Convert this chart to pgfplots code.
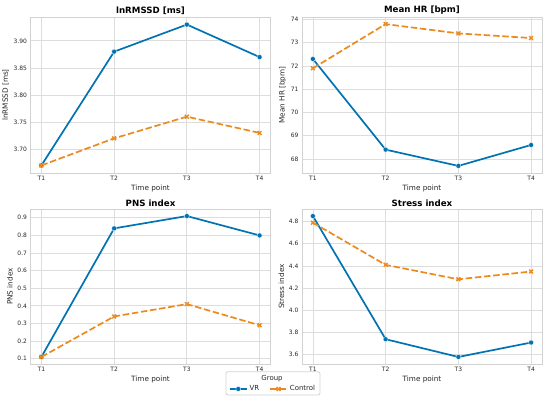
\documentclass[border=0pt]{standalone}
\usepackage{fontspec}
\setmainfont{DejaVu Sans}
\usepackage{pgfplots}
\pgfplotsset{compat=1.18}
\definecolor{vr}{RGB}{1,115,178}
\definecolor{ctl}{RGB}{236,138,30}
\definecolor{gridc}{RGB}{221,221,221}
\definecolor{spine}{RGB}{210,210,210}
\definecolor{txt}{RGB}{38,38,38}
\pgfplotsset{
  panel/.style={
    width=240bp, height=156bp, scale only axis,
    xmin=-0.15, xmax=3.15, xtick={0,1,2,3}, xticklabels={T1,T2,T3,T4},
    grid=major, major grid style={draw=gridc, line width=0.8bp},
    axis line style={draw=spine, line width=0.8bp},
    major tick length=0pt,
    /pgf/number format/assume math mode=true,
    ticklabel style={font=\fontsize{6}{7}\selectfont, text=txt},
    title style={font=\bfseries\fontsize{8.7}{10}\selectfont, yshift=-7bp},
    label style={font=\fontsize{7.3}{8.5}\selectfont, text=txt},
    xlabel={Time point},
    xlabel style={yshift=3bp},
    ylabel style={yshift=-2bp},
  },
  vrs/.style={color=vr, line width=1.7bp, mark=*, mark size=2.5bp, mark options={solid, fill=vr, draw=white, line width=0.3bp}},
  ctls/.style={color=ctl, line width=1.7bp, dash pattern=on 6.5bp off 2.7bp, mark=x, mark size=2.7bp, mark options={solid, line width=1.4bp}},
}
\begin{document}
\begin{tikzpicture}
\useasboundingbox (0bp,0bp) rectangle (550bp,401bp);
% top-left
\begin{axis}[panel, at={(30.5bp,228bp)}, anchor=south west,
  title={lnRMSSD [ms]}, ylabel={lnRMSSD [ms]},
  ymin=3.656, ymax=3.944, ytick={3.70,3.75,3.80,3.85,3.90},
  yticklabel style={/pgf/number format/.cd, fixed, fixed zerofill, precision=2}]
\addplot[vrs] coordinates {(0,3.67) (1,3.88) (2,3.93) (3,3.87)};
\addplot[ctls] coordinates {(0,3.67) (1,3.72) (2,3.76) (3,3.73)};
\end{axis}
% top-right
\begin{axis}[panel, at={(302bp,228bp)}, anchor=south west,
  title={Mean HR [bpm]}, ylabel={Mean HR [bpm]},
  ymin=67.395, ymax=74.105, ytick={68,69,70,71,72,73,74}]
\addplot[vrs] coordinates {(0,72.3) (1,68.4) (2,67.7) (3,68.6)};
\addplot[ctls] coordinates {(0,71.9) (1,73.8) (2,73.4) (3,73.2)};
\end{axis}
% bottom-left
\begin{axis}[panel, at={(30.5bp,37bp)}, anchor=south west, height=155bp,
  title={PNS index}, ylabel={PNS index},
  ymin=0.07, ymax=0.95, ytick={0.1,0.2,0.3,0.4,0.5,0.6,0.7,0.8,0.9},
  yticklabel style={/pgf/number format/.cd, fixed, fixed zerofill, precision=1},
  legend columns=2,
  legend style={at={(axis description cs:1.0104,-0.161)}, anchor=center, draw=none, fill=none,
    font=\fontsize{7}{8}\selectfont, text=txt,
    /tikz/every even column/.append style={column sep=8bp}},
  ]
\addplot[vrs] coordinates {(0,0.11) (1,0.84) (2,0.91) (3,0.80)};
\addlegendentry{VR}
\addplot[ctls] coordinates {(0,0.11) (1,0.34) (2,0.41) (3,0.29)};
\addlegendentry{Control}
\end{axis}
% bottom-right
\begin{axis}[panel, at={(302bp,37bp)}, anchor=south west, height=155bp,
  title={Stress index}, ylabel={Stress index},
  ymin=3.5165, ymax=4.9135, ytick={3.6,3.8,4.0,4.2,4.4,4.6,4.8},
  yticklabel style={/pgf/number format/.cd, fixed, fixed zerofill, precision=1}]
\addplot[vrs] coordinates {(0,4.85) (1,3.74) (2,3.58) (3,3.71)};
\addplot[ctls] coordinates {(0,4.79) (1,4.41) (2,4.28) (3,4.35)};
\end{axis}
\draw[spine, line width=0.8bp, rounded corners=2bp] (226bp,6bp) rectangle (320bp,29.3bp);
\node[font=\fontsize{7}{8}\selectfont, text=txt] at (272bp,22.5bp) {Group};
\end{tikzpicture}
\end{document}
